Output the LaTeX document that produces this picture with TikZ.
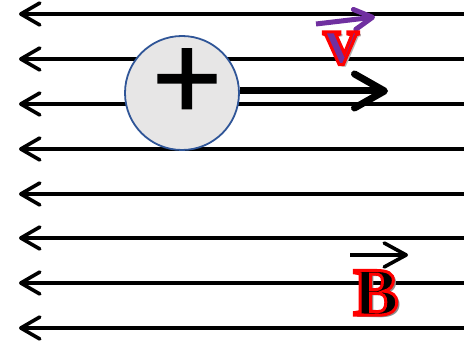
\documentclass[tikz,border=0pt]{standalone}
\usepackage{fontspec}
\usetikzlibrary{arrows.meta}
\newfontfamily\serifbold{Liberation Serif}[BoldFont={Liberation Serif Bold}]
\newfontfamily\plusfont{Carlito}
\definecolor{vpurple}{HTML}{7030A0}
\definecolor{circfill}{HTML}{E7E6E6}
\definecolor{circline}{HTML}{2F5597}
% #1 fill colour, #2 stroke rgb, #3 stroke width, #4 text
\newcommand\outlinedtext[4]{{\color{#1}\special{pdf:literal direct #2 RG 2 Tr #3 w}#4\special{pdf:literal direct 0 Tr 1 w}}}
\newcommand\shadowed[5]{\rlap{\hspace{#1}\raisebox{#2}{\color{#3}#5}}#4}
\begin{document}
\begin{tikzpicture}[x=1pt,y=1pt,
  fieldline/.style={line width=3.6pt,line cap=round,-{Straight Barb[length=19pt,width=22pt,line cap=round,line join=round]}},
  velarrow/.style={line width=7pt,-{Straight Barb[length=30pt,width=34pt,line cap=round,line join=round]}},
  purplearrow/.style={line width=5pt,vpurple,-{Straight Barb[length=18pt,width=20pt,line cap=round,line join=round]}},
  barrow/.style={line width=3.6pt,-{Straight Barb[length=22pt,width=24pt,line cap=round,line join=round]}},
  charge/.style={circle,draw=circline,fill=circfill,line width=1.8pt,minimum size=114pt,inner sep=0pt}]
\useasboundingbox (0,0) rectangle (464,343);
\foreach \py [count=\i] in {14,59,104,149,194,238,283,328}{
  \coordinate (R\i) at (466,343-\py);
  \coordinate (L\i) at (19,343-\py);
  \draw[fieldline] (R\i) -- (L\i);
}
\coordinate (vend) at (388,343-91);
\node[charge] (q) at (182,343-93) {};
\draw[velarrow] ([yshift=2pt]q.east) -- (vend);
\node[inner sep=0pt] (plus) at (187,343-84) {\plusfont\fontsize{128}{128}\selectfont\outlinedtext{black}{0 0 0}{1.4}{+}};
\coordinate (pa) at (316,343-24);
\coordinate (pb) at (375,343-17);
\draw[purplearrow] (pa) -- (pb);
\node[inner sep=0pt,anchor=base] (vlabel) at (341,343-64) {\serifbold\bfseries\fontsize{70}{70}\selectfont\shadowed{2.5pt}{-2.5pt}{black!30}{\outlinedtext{vpurple}{1 0 0}{3}{v}}{v}};
\coordinate (ba) at (350,343-255);
\coordinate (bb) at (408,343-255);
\draw[barrow] (ba) -- (bb);
\node[inner sep=0pt,anchor=base] (blabel) at (376,343-315) {\serifbold\bfseries\fontsize{68}{68}\selectfont\shadowed{3pt}{-3pt}{black!45}{\outlinedtext{black}{1 0 0}{3}{B}}{B}};
\end{tikzpicture}
\end{document}
